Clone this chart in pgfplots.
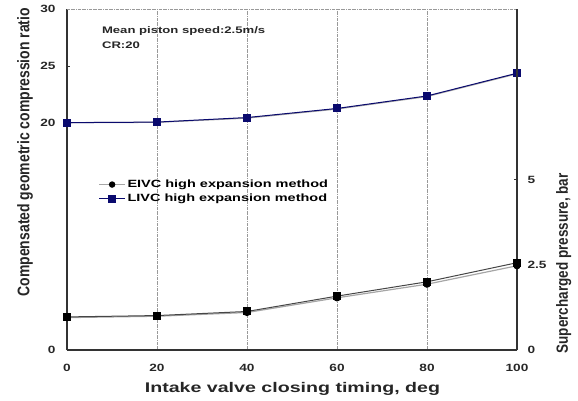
\documentclass[border=0pt]{standalone}
\usepackage{pgfplots}
\pgfplotsset{compat=1.18}
\usepackage{fontspec}
\setmainfont{Liberation Sans}
\usepackage{graphicx}
\newcommand\sx[1]{\scalebox{1.3}[1]{#1}}
\newcommand\sy[1]{\scalebox{1}[1.2]{#1}}
\definecolor{navyb}{HTML}{0A0A6E}
\definecolor{axgray}{HTML}{333333}

\begin{document}
\begin{tikzpicture}
\begin{axis}[
  at={(0,0)}, anchor=south west,
  width=450pt, height=341pt, scale only axis, clip=false,
  xmin=0, xmax=100, ymin=0, ymax=30,
  axis x line*=bottom, axis y line*=left,
  axis line style={axgray, line width=1.5pt, -},
  xtick={0,20,40,60,80,100},
  xticklabels={\sx{0},\sx{20},\sx{40},\sx{60},\sx{80},\sx{100}},
  ytick={0,20,25,30},
  yticklabels={\sx{0},\sx{20},\sx{25},\sx{30}},
  ticklabel style={font=\bfseries\fontsize{10.5}{12}\selectfont, text=black!85},
  x tick label style={anchor=center, yshift=-18pt},
  y tick label style={anchor=east, xshift=-8pt},
  xmajorgrids,
  grid style={densely dashdotted, gray!80, line width=0.6pt},
  x tick style={draw=none},
  y tick style={axgray, line width=0.6pt},
  tick align=inside, major tick length=3pt,
  xlabel={\scalebox{1.4}[1]{Intake valve closing timing, deg}},
  ylabel={\sy{Compensated geometric compression ratio}},
  xlabel style={font=\bfseries\fontsize{14}{16}\selectfont, text=black!85,
    at={(axis description cs:0.501,-0.114)}, anchor=center},
  ylabel style={font=\bfseries\fontsize{14}{16}\selectfont, text=black!85,
    at={(axis description cs:-0.093,0.58)}, anchor=center},
  legend style={at={(rel axis cs:0.07,0.505)}, anchor=north west, draw=none, fill=none,
    font=\bfseries\fontsize{10.5}{12}\selectfont, inner sep=0pt, row sep=1pt},
  legend cell align=left,
  legend image code/.code={\draw[mark repeat=2,mark phase=2,#1] plot coordinates {(0cm,0cm) (0.45cm,0cm) (0.9cm,0cm)};},
]
\addplot[gray!70, line width=1.2pt, mark=*, mark size=2.6pt, mark options={fill=black, draw=black, solid}]
  coordinates {(0,20.0) (20,20.03) (40,20.4) (60,21.2) (80,22.3) (100,24.3)};
\addlegendentry{\scalebox{1.38}[1]{EIVC high expansion method}}
\addplot[navyb, line width=1.0pt, mark=square*, mark size=3.5pt, mark options={fill=navyb, draw=navyb, solid}]
  coordinates {(0,20.0) (20,20.05) (40,20.45) (60,21.25) (80,22.35) (100,24.35)};
\addlegendentry{\scalebox{1.38}[1]{LIVC high expansion method}}
\draw[densely dashdotted, gray!80, line width=0.8pt] (rel axis cs:0,1) -- (rel axis cs:1,1);
\node[anchor=west, font=\bfseries\fontsize{9.5}{11}\selectfont, text=black!85] at (rel axis cs:0.07,0.935) {\scalebox{1.38}[1]{Mean piston speed:2.5m/s}};
\node[anchor=west, font=\bfseries\fontsize{9.5}{11}\selectfont, text=black!85] at (rel axis cs:0.07,0.894) {\scalebox{1.38}[1]{CR:20}};
\end{axis}
\begin{axis}[
  at={(0,0)}, anchor=south west,
  width=450pt, height=341pt, scale only axis, clip=false,
  xmin=0, xmax=100, ymin=0, ymax=10,
  axis x line=none, axis y line*=right,
  axis line style={axgray, line width=1.5pt, -},
  ytick={0,2.5,5},
  yticklabels={\sx{0},\sx{2.5},\sx{5}},
  ticklabel style={font=\bfseries\fontsize{10.5}{12}\selectfont, text=black!85},
  y tick label style={anchor=west, xshift=7pt},
  y tick style={axgray, line width=0.6pt},
  tick align=inside, major tick length=3pt,
  ylabel={\sy{Supercharged pressure, bar}},
  ylabel style={font=\bfseries\fontsize{13.5}{16}\selectfont, text=black!85,
    at={(axis description cs:1.104,0.254)}, anchor=center},
]
\addplot[gray!70, line width=1.2pt, mark=*, mark size=3pt, mark options={fill=black, draw=black, solid}]
  coordinates {(0,0.95) (20,0.99) (40,1.1) (60,1.53) (80,1.93) (100,2.47)};
\addplot[gray!55!black, line width=1.0pt, mark=square*, mark size=3.5pt, mark options={fill=black, draw=black, solid}]
  coordinates {(0,0.97) (20,1.01) (40,1.13) (60,1.58) (80,2.0) (100,2.56)};
\end{axis}
\pgfresetboundingbox
\path[use as bounding box] (-67pt,-50pt) rectangle (511pt,350pt);
\end{tikzpicture}
\end{document}
